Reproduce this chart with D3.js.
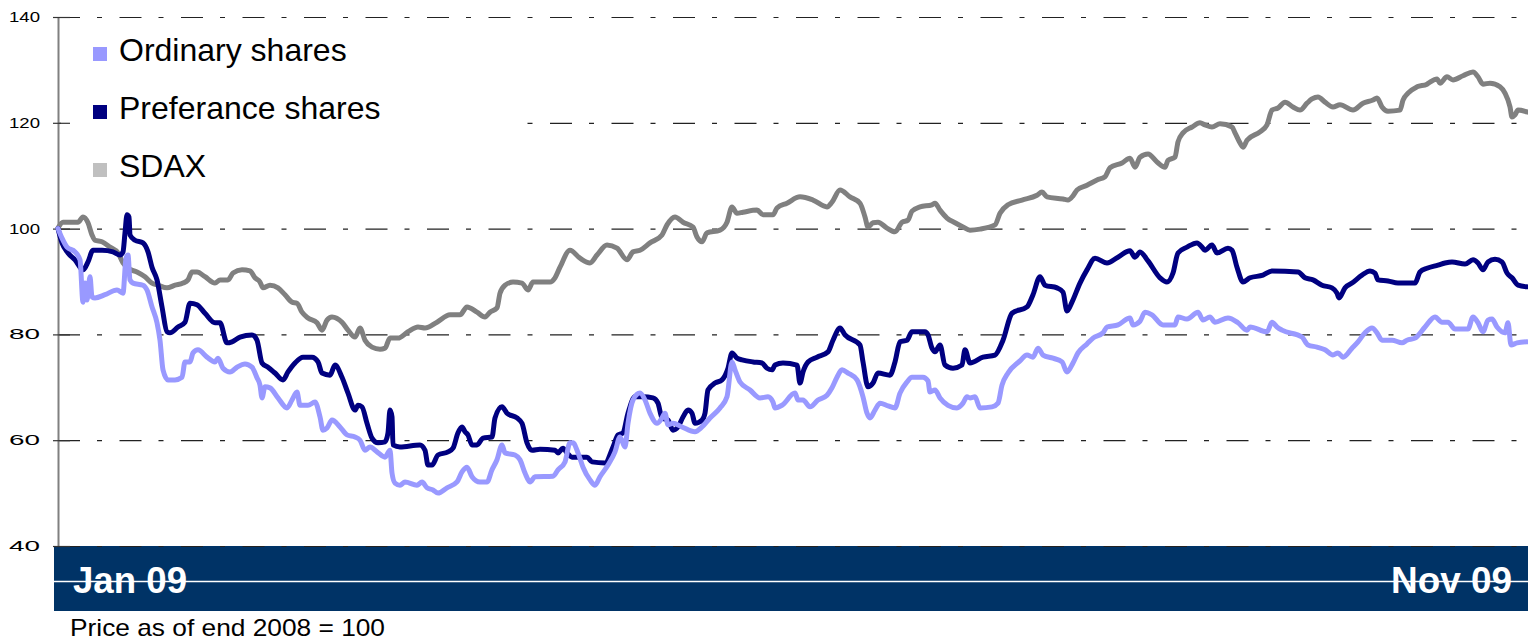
<!DOCTYPE html>
<html><head><meta charset="utf-8">
<script src="https://cdn.jsdelivr.net/npm/d3@7/dist/d3.min.js"></script>
<style>
html,body{margin:0;padding:0;background:#fff;}
svg{display:block;font-family:Arial,"Liberation Sans",sans-serif;}
</style></head>
<body>
<svg id="chart" width="1528" height="640"></svg>
<script>
// ---- data (x = trading-day index since 31 Dec 2008, value = price index, end 2008 = 100)
const seriesNames = ["Ordinary shares", "Preferance shares", "SDAX"];
const seriesColors = ["#9999FF", "#000080", "#808080"];
const legendColors = ["#9999FF", "#000080", "#C0C0C0"];
const yTicks = [40, 60, 80, 100, 120, 140];
const xLabels = ["Jan 09", "Nov 09"];
const footnote = "Price as of end 2008 = 100";

const ordinary = [[0,100],[0.8,98.2],[1.8,96.5],[3.4,95.6],[4.4,94.1],[5,86.1],[5.4,89.7],[5.8,86.5],[6.4,90.9],[6.8,87.1],[7.4,86.9],[9.4,87.5],[11.8,88.4],[13,87.8],[13.6,94.4],[14,95],[14.4,90.3],[15,89.7],[17,89.3],[17.8,88.4],[18.8,85.2],[19.8,82.2],[20.4,78.9],[21,73.3],[22,71.4],[23.4,71.4],[24.8,71.9],[25.4,74.8],[26.4,74.8],[27,76.5],[28,77.1],[29.8,75.7],[31.4,74.8],[32,75.5],[33,73.6],[34.4,72.9],[35.8,73.8],[37.4,74.4],[38.8,73.8],[39.8,71.8],[40.4,70.4],[40.8,68],[41.4,70.1],[42.4,69.9],[44,68],[45.8,66.1],[46.8,67.6],[47.8,69.1],[48.4,66.6],[50,66.6],[51.4,67.2],[52.4,64.4],[53,61.9],[53.8,62.3],[54.8,63.8],[56.4,62.5],[57.8,61],[59.4,60.6],[60.4,60],[61.4,58.1],[62.4,58.7],[63.8,57.8],[65.4,56.8],[66.4,58.1],[66.8,53.8],[67.4,51.9],[68.4,51.5],[69.4,52.1],[71.8,51.5],[72.8,52.1],[73.8,51],[75,50.6],[76,50],[77.8,51],[79.8,52.1],[80.8,54],[81.8,54.9],[82.8,53.1],[84.4,52.1],[85.8,52.1],[86.8,54.4],[87.8,56.3],[88.8,59.1],[89.4,57.6],[91.4,57.2],[92.4,56.3],[93.4,53.8],[94.4,52.1],[95.4,53.1],[99,53.2],[100,54.4],[101.4,55.9],[102.4,59.5],[103,59.5],[104,57.6],[105,54.9],[106.4,52.5],[107.4,51.5],[108.4,53.1],[110,55.3],[111.4,57.8],[112.4,60.6],[113.4,58.7],[114,63.2],[115,67.6],[116.4,68.9],[117.4,67.6],[118.4,65.1],[119.8,63.2],[120.8,64.2],[121.4,65.1],[122,62.9],[123,63.2],[124.8,62.5],[127.4,61.6],[128.8,62.5],[130.4,64.2],[132.4,66.1],[133.8,68.2],[134.8,74.8],[135.4,73.3],[136.4,71],[138.4,69.5],[140.4,68],[142,68.2],[143,67.2],[143.4,66.1],[144.8,66.6],[147.4,68.9],[148,67.6],[149,67.6],[150.4,66.3],[152,67.6],[153.8,68.5],[154.8,69.9],[155.8,71.9],[156.8,73.3],[158,72.7],[159.8,71.4],[161,68.2],[161.8,65.1],[162.4,64.2],[163.4,65.7],[164.4,67],[166,66.5],[167.4,66.1],[168.4,68.9],[169.8,71],[170.8,71.9],[173,71.9],[174,71.2],[174.4,69.1],[175.4,69.5],[176.4,68],[178,66.6],[179.8,66.1],[181,67],[181.8,68.2],[182.4,68],[183.4,68.2],[184.4,66.1],[186.8,66.3],[188,67],[188.8,70.4],[190,72.7],[192.4,75],[193.8,76.1],[195,75.7],[196,77.4],[197,76.1],[199,75.5],[200.8,74.8],[201.8,72.9],[203,74.6],[204,76.5],[205.8,78.2],[207,79.3],[209,80.3],[209.8,81.4],[212,81.8],[214.4,83.1],[215,81.8],[216.4,82.5],[217.4,84.2],[218.8,83.7],[221,81.8],[223.4,81.8],[224,83.3],[225.8,82.9],[228,84.2],[229,82.7],[230.4,83.3],[231.4,82.3],[234,83.1],[236,82.2],[237.8,80.8],[238.4,81.4],[241.8,80.5],[242.8,82.3],[243.8,81.4],[244.8,80.8],[248.8,79.5],[250,78],[251.8,77.6],[253.4,77.1],[255,76.1],[256,76.5],[257,75.7],[258.8,77.4],[260,78.6],[261.4,80.3],[262.8,81.2],[263.8,80.3],[264.8,78.9],[266.8,78.9],[268.8,78.4],[269.8,78.9],[271.4,79.3],[273.4,81.4],[275.4,83.3],[276.8,82.3],[278,82.3],[279.4,81],[282,81],[283,83.3],[284,82.2],[285,80.5],[286,82.7],[286.8,82.9],[287.8,81.4],[289.4,80.3],[290,82.2],[290.6,78],[291.8,78.4],[293.8,78.6]];

const preference = [[0,100],[0.8,97.3],[2,95.4],[3.4,94.1],[5,92.2],[6,93.7],[7,95.9],[8.8,95.9],[11,95.6],[12.4,95],[13,95.6],[13.4,99.2],[13.8,102.6],[14.2,102.2],[14.4,98.8],[15.4,97.8],[17,97.3],[18,95.6],[18.8,92.7],[19.8,90.3],[20.8,85.2],[21.8,80.5],[22.4,80.3],[24,81.4],[25.4,82.3],[26.4,85.9],[27.8,85.6],[29.4,84],[31.4,82.2],[32.4,82.2],[33.8,78.4],[34.8,78.6],[36.4,79.5],[38.8,79.9],[39.8,78.9],[40.8,74.6],[42,73.8],[43.4,72.7],[45,71.4],[46,72.9],[47.4,74.6],[49,75.7],[50.8,75.7],[52,74.8],[52.8,72.7],[54.4,72.3],[55.4,74.2],[56.8,71.9],[58,68.9],[59.4,65.7],[60,66.6],[60.8,66.3],[61.8,63.2],[62.8,60.4],[64,59.5],[65.4,59.7],[66,61.4],[66.4,65.7],[66.8,64.4],[67,59.1],[68.4,58.7],[72.4,59.1],[73.4,58.1],[74,55.3],[74.8,55.3],[76,57.2],[78,57.8],[79,58.5],[80,61.4],[80.8,62.5],[81.4,61.6],[82,61],[82.8,59.1],[83.8,59.1],[85,60.4],[86.8,60.6],[87.4,64.2],[88.8,66.3],[89.8,65.1],[91.8,64.2],[92.8,63.2],[93.8,59.5],[94.8,58.1],[96.4,58.3],[99.4,58.1],[100,57.6],[101,58.5],[101.8,57.6],[102.8,56.8],[105.8,56.8],[106.8,55.9],[109.4,55.7],[111,58.7],[112,61],[113,61.4],[114,65.1],[115.4,68.2],[117,68.2],[119,68],[120,67],[120.8,64.2],[122,63.8],[123,61.9],[124,62.5],[125,64.4],[126,65.7],[126.8,65.1],[127.4,63.2],[128.8,63.8],[129.4,65.1],[130,69.5],[131.4,70.8],[132.8,71.4],[134,73.6],[134.8,76.5],[135.8,75.5],[136.8,75.2],[139,74.8],[140.8,74.6],[141.8,73.6],[142.8,73.3],[143.4,74.2],[145,74.6],[147.8,74.2],[148.4,70.8],[149,72.9],[150,74.8],[151.8,75.7],[154,76.7],[155,78.9],[156.4,81.2],[157.4,79.9],[160.4,78],[161,74.8],[162,70.1],[163,70.8],[164,72.7],[166.4,72.3],[167.4,74.8],[168.4,78.6],[169.8,78.9],[170.8,80.5],[173.4,80.5],[174,79.9],[174.8,77.4],[175.4,76.7],[176.4,78],[177.4,74.2],[179,73.6],[180.8,74.2],[181.4,77.1],[182.4,74.6],[185,75.7],[187.4,76.1],[189,78.9],[190.8,84],[193.8,85.2],[195,87.5],[196.4,90.9],[197.4,89.3],[199.8,88.8],[201,88],[201.8,84.4],[202.8,86.1],[204.4,89.7],[205.8,92.2],[207.4,94.4],[209.8,93.5],[212,94.6],[214.4,95.8],[215.4,94.6],[216.4,95.6],[218,93.9],[220.4,90.7],[221.8,89.9],[223,91.6],[224,95.4],[225.8,96.5],[227.8,97.3],[228.8,96.5],[229.4,95.9],[230.8,96.9],[231.8,95.4],[234,96.3],[234.8,95.9],[235.8,92.7],[237,89.9],[238.4,90.7],[241,91.2],[242.8,92],[248,91.8],[249.4,90.7],[251,90.3],[252.8,89.3],[254.8,88.8],[255.8,87.8],[256.2,86.9],[257.4,88.8],[258.8,89.7],[260.8,91.2],[262.4,92],[263.4,91.6],[264,90.3],[266,90.1],[268,89.7],[271.4,89.7],[272.4,91.8],[273.8,92.5],[276,93.1],[277.4,93.5],[278.8,93.7],[281.4,93.3],[283,94.1],[284,93.5],[285,92.2],[286,93.7],[287.4,94.2],[288.8,93.7],[289.8,91.6],[290.8,90.7],[292,89.3],[293.8,89]];

const sdax = [[0,100.1],[1,101.2],[4,101.2],[5,102.2],[6,101.1],[6.8,98.8],[7.4,97.8],[8.8,97.5],[10.4,96.5],[12,95.4],[13,93.5],[14,92.5],[15.8,91.8],[17.4,90.9],[18.8,89.7],[20,89.3],[21.8,88.8],[23.4,89.3],[25,89.7],[26,90.3],[26.8,91.8],[27.8,91.8],[29.4,90.9],[31.4,89.7],[32.4,90.3],[34,90.3],[35,91.6],[36.8,92.2],[38.4,92],[39.4,90.7],[40.4,89.9],[41,88.8],[42.4,89.3],[44,88.8],[45.4,87.5],[46.8,86.1],[47.8,85.9],[48.8,84.2],[50,83.1],[51.8,82.2],[52.8,80.8],[53.8,82.7],[54.8,83.3],[56.8,82.3],[58,80.8],[59.4,79.5],[60.4,81.2],[61.4,78.9],[62.8,77.6],[64.4,77.2],[65.4,77.4],[66.4,79.3],[68,79.3],[70,80.5],[72,81.4],[73.4,81.2],[75.8,82.3],[78.4,83.7],[80.4,83.7],[81.8,85.2],[83.8,84.2],[85.4,83.3],[86.4,84.2],[87.8,85],[88.4,87.8],[89.4,89.3],[91,89.9],[92.8,89.7],[94,88.4],[95,89.9],[98.4,89.9],[99.4,90.7],[100.4,92.7],[102.4,95.9],[104.4,94.4],[106.4,93.5],[107.8,95],[109.8,96.9],[111.8,96.3],[113.8,94.1],[115,95.6],[116.4,95.9],[118.4,97.3],[120.8,98.8],[121.8,100.7],[123.4,102.2],[125,101.2],[127,100.3],[127.8,98.4],[128.8,97.5],[129.8,99.2],[132.4,99.7],[133.8,101.2],[134.8,104.1],[135.8,102.9],[137,103.1],[139.8,103.5],[141,102.6],[143,102.6],[143.8,103.9],[145.8,104.8],[148.4,106],[151,105.4],[153.8,104.1],[154.8,105],[156.4,107.3],[158.4,106],[160.4,104.8],[161.4,102.2],[162,100.3],[163,101.1],[164,101.2],[165.8,100.1],[167.4,99.4],[168.8,101.2],[170,101.6],[170.8,103.3],[172.4,104.1],[174.8,104.5],[175.4,104.8],[176.4,103.5],[177.8,102],[179.4,101.1],[181,100.3],[182.4,99.7],[184.4,99.9],[187.4,100.7],[188.4,102.9],[190,104.5],[192.8,105.4],[195.8,106.3],[196.8,106.9],[197.8,106],[201,105.6],[202,105.4],[203,106.2],[203.8,107.3],[205.8,108.2],[207.8,109.2],[209.4,109.8],[210.4,111.5],[212.8,112.4],[214.4,113.3],[215.4,111.6],[216.4,113.5],[218,114.1],[219.8,112.6],[221.4,111.6],[222,112.9],[223.4,113.5],[224,116.4],[225,118.1],[226.8,119.2],[228.4,120],[229.4,119.6],[230.8,119.2],[232.4,119.8],[234.8,119.2],[235.4,118.1],[236.4,116.2],[237,115.4],[237.8,116.7],[240.4,118.3],[241.8,119.6],[242.8,122.4],[244,122.8],[245.4,123.9],[247,123],[248.4,122.4],[249.8,123.7],[250.8,124.5],[252,124.9],[253.4,123.9],[255,123],[256.4,123.4],[259,122.4],[261,123.7],[263,124.3],[263.8,124.7],[264.8,123],[266,122.2],[268.4,122.4],[269,124.3],[270,125.6],[271.8,126.8],[273.8,127.3],[274.4,127.7],[275.8,128.3],[276.4,127.5],[277.8,128.7],[279,128.1],[281,128.9],[283,129.6],[284,128.7],[285,127.3],[286.4,127.5],[288.4,126.8],[289.4,125.6],[290.4,123],[290.8,121.1],[291.4,121.5],[292,122.4],[294,122]];

// ---- layout
const W = 1528;
const plotL = 58, plotR = 1528, plotT = 17, plotB = 546;
const svg = d3.select("#chart");

const x = d3.scaleLinear().domain([0, 294]).range([plotL, plotR]);
const y = d3.scaleLinear().domain([40, 140]).range([plotB, plotT]);

// bottom band
svg.append("rect").attr("x", 54).attr("y", plotB).attr("width", W - 54).attr("height", 65).attr("fill", "#003366");
svg.append("line").attr("x1", 54).attr("x2", W).attr("y1", 581.5).attr("y2", 581.5).attr("stroke", "#fff").attr("stroke-width", 1.5);

// gridlines
const grid = svg.append("g").attr("transform", `translate(${plotL},0)`)
  .call(d3.axisLeft(y).tickValues(yTicks).tickSize(-(plotR - plotL)).tickFormat(""));
grid.select(".domain").remove();
grid.selectAll(".tick line").attr("stroke", "#222").attr("stroke-width", 1.2).attr("stroke-dasharray", "22,17,5,17.5");

// legend background box (hides gridlines behind the legend)
svg.append("rect").attr("x", 61).attr("y", 24).attr("width", 460).attr("height", 168).attr("fill", "#fff");

// y axis
const ax = svg.append("g").attr("transform", `translate(${plotL},0)`)
  .call(d3.axisLeft(y).tickValues(yTicks).tickSize(5).tickSizeOuter(0).tickPadding(13));
ax.select(".domain").attr("stroke", "#808080").attr("stroke-width", 2);
ax.selectAll(".tick line").attr("stroke", "#333").attr("stroke-width", 1.2);
ax.selectAll(".tick").append("line").attr("x1", 0).attr("x2", 12).attr("stroke", "#333").attr("stroke-width", 1.2);
ax.selectAll(".tick text").attr("fill", "#000").attr("font-size", 15).attr("font-family", "Arial, 'Liberation Sans', sans-serif")
  .attr("textLength", 31).attr("lengthAdjust", "spacingAndGlyphs").attr("dy", "0.3em");

// lines
const line = d3.line().x(d => x(d[0])).y(d => y(d[1])).curve(d3.curveMonotoneX);
const drawOrder = [[sdax, 2], [preference, 1], [ordinary, 0]];
drawOrder.forEach(([data, i]) => {
  svg.append("path").datum(data).attr("d", line).attr("fill", "none")
    .attr("stroke", seriesColors[i]).attr("stroke-width", 5)
    .attr("stroke-linejoin", "round").attr("stroke-linecap", "round");
});

// legend
const leg = svg.append("g");
seriesNames.forEach((name, i) => {
  const by = 61 + i * 58;
  leg.append("rect").attr("x", 93).attr("y", by - 14).attr("width", 14).attr("height", 14).attr("fill", legendColors[i]);
  leg.append("text").attr("x", 119).attr("y", by).attr("font-size", 32).attr("fill", "#000").text(name);
});

// x labels in band
svg.append("text").attr("x", 73).attr("y", 593).attr("font-size", 37).attr("font-weight", "bold").attr("fill", "#fff")
  .attr("textLength", 114).attr("lengthAdjust", "spacingAndGlyphs").text(xLabels[0]);
svg.append("text").attr("x", 1512).attr("y", 593).attr("font-size", 37).attr("font-weight", "bold").attr("fill", "#fff").attr("text-anchor", "end")
  .attr("textLength", 121).attr("lengthAdjust", "spacingAndGlyphs").text(xLabels[1]);

// footnote
svg.append("text").attr("x", 70).attr("y", 636).attr("font-size", 24).attr("fill", "#000")
  .attr("textLength", 315).attr("lengthAdjust", "spacingAndGlyphs").text(footnote);
</script>
</body></html>
